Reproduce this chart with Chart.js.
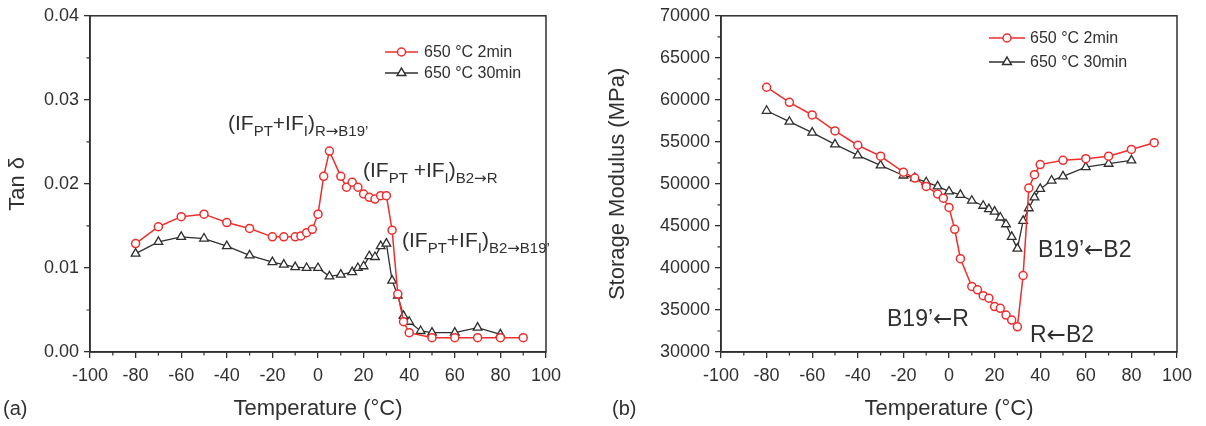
<!DOCTYPE html>
<html><head><meta charset="utf-8">
<script src="https://cdn.jsdelivr.net/npm/chart.js@4/dist/chart.umd.min.js"></script>
<style>
html,body{margin:0;padding:0;background:#fff;width:1206px;height:426px;overflow:hidden}
#ca{position:absolute;left:0;top:0}
#cb{position:absolute;left:600px;top:0}
</style></head><body>
<canvas id="ca" width="600" height="426"></canvas>
<canvas id="cb" width="606" height="426"></canvas>
<script>
// ---------- data ----------
const seriesLabels = ['650 °C 2min', '650 °C 30min'];

// (a) Tan delta
const tempA_2min = [-80,-70,-60,-50,-40,-30,-20,-15,-10,-7.5,-5,-2.5,0,2.5,5,10,12.5,15,17.5,20,22.5,25,27.5,30,32.5,35,37.5,40,50,60,70,80,90];
const tanD_2min  = [0.0129,0.0149,0.0161,0.0164,0.0154,0.0147,0.0137,0.0137,0.0137,0.0138,0.0142,0.0146,0.0164,0.0209,0.0239,0.0209,0.0196,0.0202,0.0196,0.0188,0.0184,0.0182,0.0186,0.0186,0.0145,0.0069,0.0036,0.0023,0.0017,0.0017,0.0017,0.0017,0.0017];
const tempA_30min = [-80,-70,-60,-50,-40,-30,-20,-15,-10,-5,0,5,10,15,17.5,20,22.5,25,27.5,30,32.5,35,37.5,40,45,50,60,70,80];
const tanD_30min  = [0.0117,0.0131,0.0137,0.0135,0.0126,0.0115,0.0107,0.0104,0.0101,0.0100,0.0100,0.0090,0.0092,0.0095,0.0100,0.0102,0.0114,0.0113,0.0126,0.0129,0.0085,0.0067,0.0043,0.0036,0.0025,0.0023,0.0023,0.0029,0.0021];

// (b) Storage modulus
const tempB_2min = [-80,-70,-60,-50,-40,-30,-20,-15,-10,-5,-2.5,0,2.5,5,10,12.5,15,17.5,20,22.5,25,27.5,30,32.5,35,37.5,40,50,60,70,80,90];
const modulus_2min = [61500,59700,58200,56300,54600,53300,51400,50700,49700,48800,48300,47200,44600,41100,37800,37400,36700,36400,35400,35200,34400,33800,33000,39100,49500,51100,52300,52800,53000,53300,54100,54900];
const tempB_30min = [-80,-70,-60,-50,-40,-30,-20,-15,-10,-5,0,5,10,15,17.5,20,22.5,25,27.5,30,32.5,35,37.5,40,45,50,60,70,80];
const modulus_30min = [58700,57400,56100,54700,53400,52200,51000,50700,50200,49700,49100,48700,48000,47400,47000,46700,46000,45200,43700,42300,45600,47100,48400,49400,50400,50900,52000,52400,52800];

// ticks
const xTickValues = [-100,-80,-60,-40,-20,0,20,40,60,80,100];
const xMinorValues = [-90,-70,-50,-30,-10,10,30,50,70,90];
const yTickValuesA = [0,0.01,0.02,0.03,0.04];
const yMinorValuesA = [0.005,0.015,0.025,0.035];
const yTickValuesB = [30000,35000,40000,45000,50000,55000,60000,65000,70000];
const yMinorValuesB = [32500,37500,42500,47500,52500,57500,62500,67500];

// ---------- style ----------
const RED = '#ee2d2d';
const DARK = '#2f2f2f';
const TXT = '#303030';
const FONT = "'Liberation Sans', Arial, sans-serif";
const ARROW_FONT = "'DejaVu Sans', sans-serif";
Chart.defaults.font.family = FONT;
Chart.defaults.color = TXT;

function pts(xs, ys) { return xs.map((x, i) => ({x: x, y: ys[i]})); }

function drawMarker(ctx, style, x, y, color) {
  ctx.save();
  ctx.strokeStyle = color; ctx.fillStyle = '#fff'; ctx.lineWidth = 1.5;
  ctx.beginPath();
  if (style === 'circle') {
    ctx.arc(x, y, 4, 0, Math.PI * 2);
  } else {
    const r = 5;
    ctx.moveTo(x, y - r);
    ctx.lineTo(x + r * 0.866, y + r * 0.5);
    ctx.lineTo(x - r * 0.866, y + r * 0.5);
    ctx.closePath();
  }
  ctx.fill(); ctx.stroke();
  ctx.restore();
}

// parts: [text, isSub, optionalFontFamily]
function drawRich(ctx, parts, x, y, mainSize, subSize) {
  let cx = x;
  ctx.textBaseline = 'alphabetic';
  ctx.textAlign = 'left';
  parts.forEach(p => {
    const sub = p[1];
    const fam = p[2] || FONT;
    ctx.font = (sub ? subSize : mainSize) + 'px ' + fam;
    ctx.fillText(p[0], cx, sub ? y + 6 : y);
    cx += ctx.measureText(p[0]).width;
  });
}

const deco = {
  id: 'deco',
  afterDraw(chart, args, o) {
    const ctx = chart.ctx, a = chart.chartArea, xs = chart.scales.x, ys = chart.scales.y;
    ctx.save();
    ctx.strokeStyle = DARK; ctx.lineWidth = 1.5;
    ctx.strokeRect(a.left, a.top, a.right - a.left, a.bottom - a.top);
    ctx.lineWidth = 1.2;
    ctx.beginPath();
    o.xMinor.forEach(v => { const p = xs.getPixelForValue(v); ctx.moveTo(p, a.bottom); ctx.lineTo(p, a.bottom + 3.5); });
    o.yMinor.forEach(v => { const p = ys.getPixelForValue(v); ctx.moveTo(a.left, p); ctx.lineTo(a.left - 3.5, p); });
    ctx.stroke();
    const L = o.legend;
    chart.data.datasets.forEach((ds, i) => {
      const yy = L.rows[i];
      ctx.strokeStyle = ds.borderColor; ctx.lineWidth = 1.5;
      ctx.beginPath(); ctx.moveTo(L.x1, yy); ctx.lineTo(L.x2, yy); ctx.stroke();
      drawMarker(ctx, ds.pointStyle, (L.x1 + L.x2) / 2, yy, ds.borderColor);
      ctx.fillStyle = TXT;
      ctx.font = L.size + 'px ' + FONT;
      ctx.textBaseline = 'middle'; ctx.textAlign = 'left';
      ctx.fillText(ds.label, L.tx, yy + 1);
    });
    ctx.fillStyle = TXT;
    o.notes.forEach(n => drawRich(ctx, n.parts, n.x, n.y, n.size, n.sub));
    ctx.font = '20px ' + FONT; ctx.textBaseline = 'alphabetic'; ctx.textAlign = 'left';
    ctx.fillText(o.panel.text, o.panel.x, o.panel.y);
    ctx.restore();
  }
};

function makeChart(id, c) {
  return new Chart(document.getElementById(id), {
    type: 'line',
    data: {
      datasets: [
        { label: seriesLabels[0], data: pts(c.x1, c.y1), borderColor: RED, backgroundColor: '#fff',
          borderWidth: 1.5, pointStyle: 'circle', pointRadius: 4, pointBorderWidth: 1.5,
          pointBorderColor: RED, pointBackgroundColor: '#fff', tension: 0 },
        { label: seriesLabels[1], data: pts(c.x2, c.y2), borderColor: DARK, backgroundColor: '#fff',
          borderWidth: 1.3, pointStyle: 'triangle', pointRadius: 5, pointBorderWidth: 1.3,
          pointBorderColor: DARK, pointBackgroundColor: '#fff', tension: 0 }
      ]
    },
    options: {
      responsive: false, animation: false, devicePixelRatio: 1,
      layout: { padding: { left: 0, top: 13, right: c.padRight, bottom: 0 } },
      plugins: { legend: { display: false }, tooltip: { enabled: false }, deco: c.deco },
      scales: {
        x: {
          type: 'linear', min: -100, max: 100,
          afterBuildTicks: s => { s.ticks = xTickValues.map(v => ({ value: v })); },
          afterFit: s => { s.height = 74; },
          ticks: { font: { size: 18 }, color: TXT, padding: 7, maxRotation: 0, autoSkip: false },
          grid: { drawOnChartArea: false, drawTicks: true, tickLength: 6, color: DARK, lineWidth: 1.3 },
          border: { display: true, color: DARK, width: 1.5 },
          title: { display: true, text: 'Temperature (°C)', font: { size: 22 }, color: TXT, padding: { top: 0, bottom: 4 } }
        },
        y: {
          type: 'linear', min: c.yMin, max: c.yMax,
          afterBuildTicks: s => { s.ticks = c.yTicks.map(v => ({ value: v })); },
          afterFit: s => { s.width = c.yWidth; },
          ticks: { font: { size: 18 }, color: TXT, padding: 5, autoSkip: false, callback: c.yFmt },
          grid: { drawOnChartArea: false, drawTicks: true, tickLength: 6, color: DARK, lineWidth: 1.3 },
          border: { display: true, color: DARK, width: 1.5 },
          title: { display: true, text: c.yTitle, font: { size: 22 }, color: TXT, padding: { top: 5, bottom: 0 } }
        }
      }
    },
    plugins: [deco]
  });
}

makeChart('ca', {
  x1: tempA_2min, y1: tanD_2min, x2: tempA_30min, y2: tanD_30min,
  yMin: 0, yMax: 0.04, yTicks: yTickValuesA, yWidth: 90, padRight: 54,
  yFmt: v => Number(v).toFixed(2), yTitle: 'Tan δ',
  deco: {
    xMinor: xMinorValues, yMinor: yMinorValuesA,
    legend: { x1: 385, x2: 418, tx: 424, rows: [52, 73], size: 16 },
    notes: [
      { x: 228, y: 130, size: 21, sub: 15, parts: [['(IF', 0], ['PT', 1], ['+IF', 0], ['I', 1], [')', 0], ['R', 1], ['→', 1, ARROW_FONT], ['B19’', 1]] },
      { x: 363, y: 177, size: 21, sub: 15, parts: [['(IF', 0], ['PT', 1], [' +IF', 0], ['I', 1], [')', 0], ['B2', 1], ['→', 1, ARROW_FONT], ['R', 1]] },
      { x: 402, y: 247, size: 21, sub: 15, parts: [['(IF', 0], ['PT', 1], ['+IF', 0], ['I', 1], [')', 0], ['B2', 1], ['→', 1, ARROW_FONT], ['B19’', 1]] }
    ],
    panel: { text: '(a)', x: 3, y: 415 }
  }
});

makeChart('cb', {
  x1: tempB_2min, y1: modulus_2min, x2: tempB_30min, y2: modulus_30min,
  yMin: 30000, yMax: 70000, yTicks: yTickValuesB, yWidth: 121, padRight: 29,
  yFmt: v => String(v), yTitle: 'Storage Modulus (MPa)',
  deco: {
    xMinor: xMinorValues, yMinor: yMinorValuesB,
    legend: { x1: 389, x2: 425, tx: 430, rows: [38, 62], size: 16 },
    notes: [
      { x: 438, y: 257, size: 23, sub: 15, parts: [['B19’', 0], ['←', 0, ARROW_FONT], ['B2', 0]] },
      { x: 287, y: 326, size: 23, sub: 15, parts: [['B19’', 0], ['←', 0, ARROW_FONT], ['R', 0]] },
      { x: 430, y: 342, size: 23, sub: 15, parts: [['R', 0], ['←', 0, ARROW_FONT], ['B2', 0]] }
    ],
    panel: { text: '(b)', x: 12, y: 415 }
  }
});
</script>
</body></html>
